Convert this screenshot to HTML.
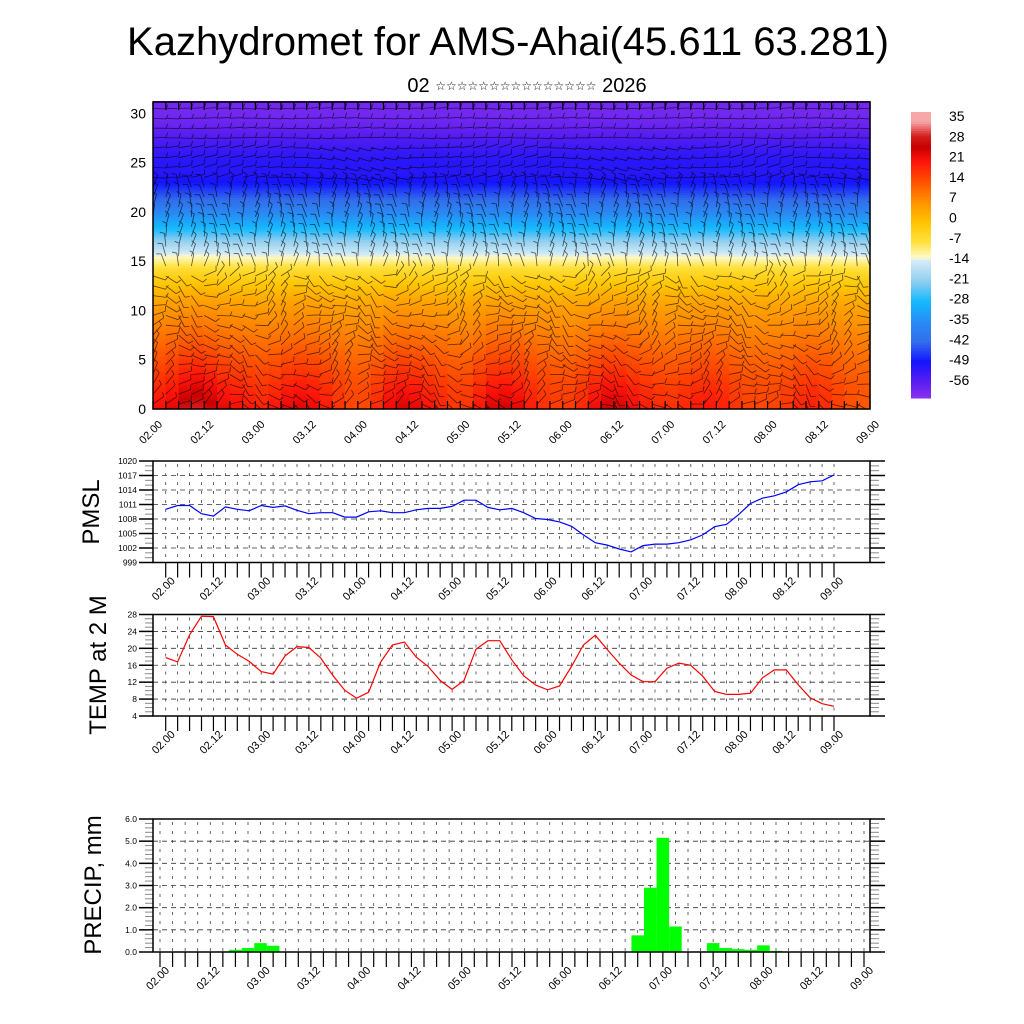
<!DOCTYPE html>
<html><head><meta charset="utf-8"><style>
html,body{margin:0;padding:0;background:#fff;}
svg{display:block;font-family:"Liberation Sans","DejaVu Sans",sans-serif;}
</style></head><body>
<svg id="chart" width="1024" height="1024" viewBox="0 0 1024 1024" xmlns="http://www.w3.org/2000/svg">
<text x="508" y="55" font-size="40" text-anchor="middle" fill="#000">Kazhydromet for AMS-Ahai(45.611 63.281)</text>
<text x="527" y="92" font-size="20" text-anchor="middle" fill="#000">02 <tspan font-family="DejaVu Sans" font-size="12" dy="-2">☆☆☆☆☆☆☆☆☆☆☆☆☆☆☆</tspan><tspan dy="2"> 2026</tspan></text>
<g id="topPanel"></g>
<g id="cbar"></g>
<g id="pmsl"></g>
<g id="temp"></g>
<g id="prec"></g>
<text transform="translate(99,512) rotate(-90)" font-size="24" text-anchor="middle">PMSL</text>
<text transform="translate(106,665) rotate(-90)" font-size="24" text-anchor="middle">TEMP at 2 M</text>
<text transform="translate(101,885) rotate(-90)" font-size="24" text-anchor="middle">PRECIP, mm</text>
</svg>
<script>
const xLabels=["02.00","02.12","03.00","03.12","04.00","04.12","05.00","05.12","06.00","06.12","07.00","07.12","08.00","08.12","09.00"];
const pmslVals=[1010.0,1010.8,1010.8,1009.1,1008.6,1010.5,1010.0,1009.7,1010.8,1010.4,1010.7,1009.8,1009.1,1009.3,1009.3,1008.4,1008.4,1009.5,1009.7,1009.3,1009.3,1009.9,1010.2,1010.2,1010.6,1011.9,1011.9,1010.4,1009.9,1010.2,1009.3,1008.1,1007.9,1007.4,1006.5,1004.7,1003.1,1002.6,1001.8,1001.2,1002.5,1002.8,1002.8,1003.1,1003.7,1004.7,1006.4,1006.9,1008.9,1011.2,1012.3,1012.8,1013.6,1015.1,1015.7,1015.9,1017.1];
const tempVals=[17.8,16.8,23.2,27.6,27.5,20.8,18.6,16.9,14.5,13.9,18.2,20.4,20.2,17.7,13.6,10.1,8.2,9.6,16.7,20.8,21.5,17.9,15.7,12.4,10.3,12.4,19.8,21.8,21.8,17.3,13.5,11.3,10.2,11.1,15.7,20.8,23.1,19.7,16.5,13.7,12.1,12.1,15.3,16.5,16.0,13.4,9.8,9.1,9.1,9.4,13.0,14.9,14.9,11.4,8.3,6.9,6.3];
const precipVals=[0,0,0,0,0,0.03,0.1,0.18,0.4,0.28,0,0,0.03,0.03,0,0,0,0,0,0,0,0,0,0,0,0,0,0,0,0,0,0,0,0,0,0,0,0,0.75,2.9,5.15,1.15,0,0.03,0.4,0.18,0.13,0.1,0.3,0.05,0,0,0,0,0,0,0];
const pmslTicks=[1020,1017,1014,1011,1008,1005,1002,999];
const tempTicks=[28,24,20,16,12,8,4];
const precipTicks=[0,1,2,3,4,5,6];
const heightTicks=[0,5,10,15,20,25,30];
const profile=[20,19,18,16.5,15,13.5,12,10.5,9,7.5,6,4,1.5,-1.5,-5,-10,-15,-20,-26,-31,-36,-41,-45,-49,-51,-51,-52,-54,-56,-58,-59,-59];
const cbarLabels=[35,28,21,14,7,0,-7,-14,-21,-28,-35,-42,-49,-56];

const NS="http://www.w3.org/2000/svg";
function mk(tag,attrs,parent,txt){const e=document.createElementNS(NS,tag);for(const k in attrs)e.setAttribute(k,attrs[k]);if(txt!==undefined)e.textContent=txt;parent.appendChild(e);return e;}

const cstops=[[35,[246,168,168]],[30,[214,30,30]],[26,[200,0,0]],[21,[255,20,10]],[14,[255,80,0]],[7,[255,145,0]],[0,[255,196,0]],[-7,[255,225,60]],[-12.5,[255,250,200]],[-13.5,[215,236,246]],[-21,[140,205,240]],[-28,[20,185,255]],[-35,[40,140,245]],[-42,[50,110,235]],[-49,[20,20,255]],[-56,[90,30,240]],[-62,[140,50,240]]];
function rgb(a){return "rgb("+a.map(c=>Math.round(c)).join(",")+")";}
function cmap(v){if(v>=cstops[0][0])return rgb(cstops[0][1]);for(let i=0;i<cstops.length-1;i++){const a=cstops[i],b=cstops[i+1];if(v<=a[0]&&v>=b[0]){const t=(a[0]-v)/(a[0]-b[0]);return rgb(a[1].map((c,j)=>c+(b[1][j]-c)*t));}}return rgb(cstops[cstops.length-1][1]);}

const topG=document.getElementById('topPanel');
const TX0=153,TX1=870,TY0=409,TY1=102;
const tx=i=>TX0+(TX1-TX0)*i/56;
const ty=h=>TY0-(TY0-113.3)*h/30;
function prof(h){const i=Math.floor(h),f=h-i;const a=profile[Math.min(i,31)],b=profile[Math.min(i+1,31)];return a+(b-a)*f;}
const field=mk('g',{},topG);


const dh=0.25;
for(let c=0;c<56;c++){
  const tAvg=(tempVals[c]+tempVals[c+1])/2;
  for(let h=0;h<31.2;h+=dh){
    const v=prof(h+dh/2)+(tAvg-15)*0.8*Math.exp(-h/5);
    mk('rect',{x:tx(c).toFixed(2),y:ty(h+dh).toFixed(2),width:(tx(c+1)-tx(c)+0.6).toFixed(2),height:(ty(h)-ty(h+dh)+0.6).toFixed(2),fill:cmap(v)},field);
  }
}
const clip=mk('clipPath',{id:'topclip'},topG);
mk('rect',{x:TX0,y:TY1,width:TX1-TX0,height:TY0-TY1},clip);
const barbs=mk('g',{stroke:'#000','stroke-width':'0.8','stroke-opacity':'0.65',fill:'none','clip-path':'url(#topclip)'},topG);


let d="";
for(let c=0;c<=56;c++){
  for(let h=0.5;h<31;h+=1){
    const x=tx(c),y=ty(h);
    let ang;
    if(h>23) ang=Math.PI*(0.02*Math.sin(c*0.7+h)+(h>27?0:0.08*Math.sin(c*0.3)));
    else if(h>14) ang=Math.PI*(0.5+0.12*Math.sin(c*0.9+h*0.5));
    else ang=Math.PI*(0.25*Math.sin(c*0.45+h*0.35)+0.15*Math.cos(c*1.3));
    const L=13;
    const x2=x+L*Math.cos(ang),y2=y-L*Math.sin(ang);
    d+=`M${x.toFixed(1)} ${y.toFixed(1)}L${x2.toFixed(1)} ${y2.toFixed(1)}`;
    const bx=x2+5*Math.cos(ang+1.2),by=y2-5*Math.sin(ang+1.2);
    d+=`M${x2.toFixed(1)} ${y2.toFixed(1)}L${bx.toFixed(1)} ${by.toFixed(1)}`;
  }
}
mk('path',{d:d},barbs);
mk('rect',{x:TX0,y:TY1,width:TX1-TX0,height:TY0-TY1,fill:'none',stroke:'#000','stroke-width':1.5},topG);
for(let i=0;i<=56;i++){mk('line',{x1:tx(i),x2:tx(i),y1:TY0,y2:TY0-8,stroke:'#000','stroke-width':1.2},topG);mk('line',{x1:tx(i),x2:tx(i),y1:TY1,y2:TY1+8,stroke:'#000','stroke-width':1.2},topG);}
heightTicks.forEach(h=>{const t=mk('text',{x:146,y:ty(h)+5,'font-size':14,'text-anchor':'end'},topG,String(h));});
xLabels.forEach((l,k)=>{const x=tx(k*4);const t=mk('text',{transform:`translate(${x+10},${425}) rotate(-45)`,'font-size':11,'text-anchor':'end'},topG,l);});

const cb=document.getElementById('cbar');
const CY0=112,CY1=398;
for(let k=0;k<120;k++){const v=38-(38+62)*k/120;mk('rect',{x:911,y:(CY0+(CY1-CY0)*k/120).toFixed(2),width:20,height:((CY1-CY0)/120+0.5).toFixed(2),fill:cmap(v)},cb);}
cbarLabels.forEach((v,k)=>{const t=mk('text',{x:949,y:121+k*20.3,'font-size':14},cb,String(v));});

function panel(g,opt){
  const {X0,X1,Y0,Y1,dx0,dx1,vmin,vmax,ticks,fmt,minor}=opt;
  const xs=i=>dx0+(dx1-dx0)*i/56;
  const ys=v=>Y0-(Y0-Y1)*(v-vmin)/(vmax-vmin);
  const grid=mk('g',{stroke:'#333','stroke-width':0.8},g);
  const n=Math.round((vmax-vmin)/minor);
  for(let k=0;k<=n;k++){
    const v=vmin+k*minor;
    const y=ys(v);
    const maj=ticks.some(t=>Math.abs(t-v)<1e-6);
    if(k>0&&k<n&&maj) mk('line',{x1:X0,x2:X1,y1:y,y2:y,'stroke-dasharray':'5 4'},grid);
    mk('line',{x1:X1,x2:X1+(maj?15:9),y1:y,y2:y,stroke:maj?'#000':'#888','stroke-width':maj?1.5:1},g);
    mk('line',{x1:X0-(maj?14:8),x2:X0,y1:y,y2:y,stroke:maj?'#000':'#888','stroke-width':maj?1.5:1},g);
  }
  for(let i=0;i<=56;i++){
    const x=xs(i);
    mk('line',{x1:x,x2:x,y1:Y1+3,y2:Y0,'stroke-dasharray':'3 6',stroke:'#444'},grid);
    mk('line',{x1:x,x2:x,y1:Y0,y2:Y0+15,stroke:'#000','stroke-width':1.2},g);
  }
  ticks.forEach(v=>{const t=mk('text',{x:X0-16,y:ys(v)+3,'font-size':8.5,'text-anchor':'end'},g,fmt(v));});
  xLabels.forEach((l,k)=>{const x=xs(k*4);const t=mk('text',{transform:`translate(${x+10},${Y0+19}) rotate(-45)`,'font-size':11,'text-anchor':'end'},g,l);});
  return {xs,ys};
}
const pg=document.getElementById('pmsl');
const P=panel(pg,{X0:153,X1:870,Y0:562.5,Y1:461,dx0:165.7,dx1:834,vmin:999,vmax:1020,ticks:pmslTicks,fmt:v=>String(v),minor:1});
const pl=mk('polyline',{points:pmslVals.map((v,i)=>P.xs(i).toFixed(1)+","+P.ys(v).toFixed(1)).join(" "),fill:'none',stroke:'#0000ff','stroke-width':1.2},pg);


mk('rect',{x:153,y:461,width:717,height:101.5,fill:'none',stroke:'#000','stroke-width':1.5},pg);

const tg=document.getElementById('temp');
const T=panel(tg,{X0:153,X1:870,Y0:716,Y1:614.5,dx0:165.7,dx1:834,vmin:4,vmax:28,ticks:tempTicks,fmt:v=>String(v),minor:1});
const tl=mk('polyline',{points:tempVals.map((v,i)=>T.xs(i).toFixed(1)+","+T.ys(v).toFixed(1)).join(" "),fill:'none',stroke:'#ff0000','stroke-width':1.2},tg);


mk('rect',{x:153,y:614.5,width:717,height:101.5,fill:'none',stroke:'#000','stroke-width':1.5},tg);

const rg=document.getElementById('prec');
const R=panel(rg,{X0:153,X1:870,Y0:952,Y1:819,dx0:160,dx1:864,vmin:0,vmax:6,ticks:precipTicks,fmt:v=>v.toFixed(1),minor:0.2});
const bw=(864-160)/56;
precipVals.forEach((v,i)=>{if(v<=0)return;const y=R.ys(v);const b=mk('rect',{x:(R.xs(i)-bw/2).toFixed(2),y:y.toFixed(2),width:bw.toFixed(2),height:(952-y).toFixed(2),fill:'#00ff00'},rg);

});
mk('rect',{x:153,y:819,width:717,height:133,fill:'none',stroke:'#000','stroke-width':1.5},rg);
</script>
</body></html>
